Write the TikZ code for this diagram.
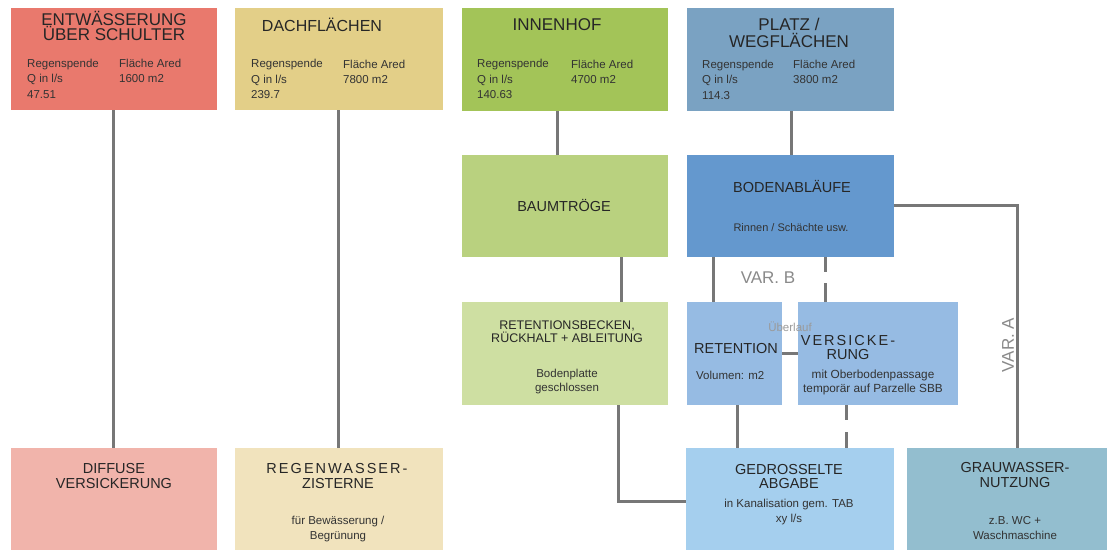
\documentclass[tikz,border=0pt]{standalone}
\usepackage{fontspec}
\setmainfont{Liberation Sans}
\usetikzlibrary{calc}
\definecolor{cRed}{HTML}{E9796D}
\definecolor{cYel}{HTML}{E3CF88}
\definecolor{cGrn}{HTML}{A3C458}
\definecolor{cSlt}{HTML}{7AA2C2}
\definecolor{cBaum}{HTML}{B9D17F}
\definecolor{cBod}{HTML}{6498CE}
\definecolor{cRb}{HTML}{CEDFA2}
\definecolor{cRet}{HTML}{96BBE3}
\definecolor{cDif}{HTML}{F1B4AB}
\definecolor{cReg}{HTML}{F1E3BD}
\definecolor{cGed}{HTML}{A5CFEE}
\definecolor{cGrau}{HTML}{93BECF}
\definecolor{lineg}{HTML}{777777}
\definecolor{txt}{HTML}{262626}
\definecolor{txts}{HTML}{333333}
\definecolor{vargray}{HTML}{8A8A8A}
\definecolor{ueb}{HTML}{9A9A9A}
\begin{document}
\begin{tikzpicture}[x=1pt,y=-1pt,
  box/.style={rectangle, inner sep=0pt, outer sep=0pt, draw=none, anchor=north west},
  conn/.style={line width=3pt, draw=lineg},
  ttl/.style={inner sep=0pt, align=center, text=txt, font=\fontsize{17}{15}\selectfont},
  hd/.style={inner sep=0pt, align=center, text=txt, font=\fontsize{14.5}{15}\selectfont},
  sm/.style={inner sep=0pt, text=txts, font=\fontsize{11.5}{15.5}\selectfont},
  lsp/.style={inner sep=0pt, align=center, text=txt, font=\fontsize{14.5}{15}\selectfont\addfontfeature{LetterSpace=14}}
]
\useasboundingbox (0,0) rectangle (1107,550);
\fill[white] (0,0) rectangle (1107,550);

% boxes
\node[box, fill=cRed, minimum width=206pt, minimum height=102pt] (b1) at (11,8) {};
\node[box, fill=cYel, minimum width=208pt, minimum height=102pt] (b2) at (235,8) {};
\node[box, fill=cGrn, minimum width=206pt, minimum height=103pt] (b3) at (462,8) {};
\node[box, fill=cSlt, minimum width=207pt, minimum height=103pt] (b4) at (687,8) {};
\node[box, fill=cBaum, minimum width=206pt, minimum height=102pt] (bt) at (462,155) {};
\node[box, fill=cBod, minimum width=207pt, minimum height=102pt] (bo) at (687,155) {};
\node[box, fill=cRb, minimum width=206pt, minimum height=103pt] (rb) at (462,302) {};
\node[box, fill=cRet, minimum width=95pt, minimum height=103pt] (re) at (687,302) {};
\node[box, fill=cRet, minimum width=160pt, minimum height=103pt] (ve) at (798,302) {};
\node[box, fill=cDif, minimum width=206pt, minimum height=102pt] (di) at (11,448) {};
\node[box, fill=cReg, minimum width=208pt, minimum height=102pt] (rw) at (235,448) {};
\node[box, fill=cGed, minimum width=208pt, minimum height=102pt] (ge) at (686,448) {};
\node[box, fill=cGrau, minimum width=208pt, minimum height=102pt] (gr) at (907,448) {};

% helper coordinates
\coordinate (x1) at (113,0);
\coordinate (x2) at (338,0);
\coordinate (x3) at (557,0);
\coordinate (x4) at (791,0);
\coordinate (xb) at (621,0);
\coordinate (xv1) at (713,0);
\coordinate (xv2) at (825,0);
\coordinate (xr) at (737,0);
\coordinate (xs) at (846,0);
\coordinate (yo) at (0,353);
\coordinate (cA) at (1017,205);
\coordinate (cR) at (618,501);

% connectors
\draw[conn] (b1.south -| x1) -- (di.north -| x1);
\draw[conn] (b2.south -| x2) -- (rw.north -| x2);
\draw[conn] (b3.south -| x3) -- (bt.north -| x3);
\draw[conn] (b4.south -| x4) -- (bo.north -| x4);
\draw[conn] (bt.south -| xb) -- (rb.north -| xb);
\draw[conn] (bo.south -| xv1) -- (re.north -| xv1);
\draw[conn, dash pattern=on 15pt off 11pt on 40pt] (bo.south -| xv2) -- (ve.north -| xv2);
\draw[conn] (re.east |- yo) -- (ve.west |- yo);
\draw[conn] (re.south -| xr) -- (ge.north -| xr);
\draw[conn, dash pattern=on 15pt off 12pt on 40pt] (ve.south -| xs) -- (ge.north -| xs);
\draw[conn] (bo.east |- cA) -- (cA) -- (gr.north -| cA);
\draw[conn] (rb.south -| cR) -- (cR) -- (ge.west |- cR);

% top row texts
\node[ttl] (t1) at (114,25.5) {ENTWÄSSERUNG\\ÜBER SCHULTER};
\node[sm, align=left, anchor=west] (t1l) at (27,78.5) {Regenspende\\Q in l/s\\47.51};
\node[sm, align=left, anchor=west] (t1r) at (119,71) {Fläche Ared\\1600 m2};

\node[ttl, font=\fontsize{16}{15}\selectfont] (t2) at (322,25) {DACHFLÄCHEN};
\node[sm, align=left, anchor=west] (t2l) at (251,79) {Regenspende\\Q in l/s\\239.7};
\node[sm, align=left, anchor=west] (t2r) at (343,72) {Fläche Ared\\7800 m2};

\node[ttl] (t3) at (557,25) {INNENHOF};
\node[sm, align=left, anchor=west] (t3l) at (477,79) {Regenspende\\Q in l/s\\140.63};
\node[sm, align=left, anchor=west] (t3r) at (571,72) {Fläche Ared\\4700 m2};

\node[ttl, font=\fontsize{17}{17}\selectfont] (t4) at (789,32.5) {PLATZ /\\WEGFLÄCHEN};
\node[sm, align=left, anchor=west] (t4l) at (702,79.5) {Regenspende\\Q in l/s\\114.3};
\node[sm, align=left, anchor=west] (t4r) at (793,72) {Fläche Ared\\3800 m2};

% second row
\node[hd] (tbt) at (564,205) {BAUMTRÖGE};
\node[hd] (tbo) at (792,186) {BODENABLÄUFE};
\node[sm, font=\fontsize{11}{14}\selectfont] (tbo2) at (791,228) {Rinnen / Schächte usw.};

% variant labels
\node[inner sep=0pt, text=vargray, font=\fontsize{17}{17}\selectfont] (vb) at (768,278) {VAR. B};
\node[inner sep=0pt, text=vargray, font=\fontsize{17}{17}\selectfont, rotate=90] (va) at (1008,345) {VAR. A};
\node[inner sep=0pt, text=ueb, font=\fontsize{11.5}{14}\selectfont] (ue) at (790,327) {Überlauf};

% third row
\node[hd, font=\fontsize{12.5}{13}\selectfont] (trb) at (567,331.5) {RETENTIONSBECKEN,\\RÜCKHALT + ABLEITUNG};
\node[sm, align=center, font=\fontsize{11.5}{14}\selectfont] (trb2) at (567,382) {Bodenplatte\\geschlossen};
\node[hd] (tre) at (736,348) {RETENTION};
\node[sm, anchor=west] (tre2) at (696,375) {Volumen: m2};
\node[lsp] (tve) at (848,340) {VERSICKE-};
\node[hd] (tve1) at (848,354) {RUNG};
\node[sm, align=center, font=\fontsize{11.8}{14}\selectfont] (tve2) at (873,382) {mit Oberbodenpassage\\temporär auf Parzelle SBB};

% bottom row
\node[hd] (tdi) at (114,475.5) {DIFFUSE\\VERSICKERUNG};
\node[lsp] (trw) at (337,468) {REGENWASSER-};
\node[hd] (trw1) at (338,483) {ZISTERNE};
\node[sm, align=center, font=\fontsize{11.5}{15}\selectfont] (trw2) at (338,529.5) {für Bewässerung /\\Begrünung};
\node[hd, font=\fontsize{14.5}{14}\selectfont] (tge) at (789,476) {GEDROSSELTE\\ABGABE};
\node[sm, align=center, font=\fontsize{11.5}{15}\selectfont] (tge2) at (789,512.5) {in Kanalisation gem. TAB\\xy l/s};
\node[hd] (tgr) at (1015,474.5) {GRAUWASSER-\\NUTZUNG};
\node[sm, align=center, font=\fontsize{11.5}{15}\selectfont] (tgr2) at (1015,528.5) {z.B. WC +\\Waschmaschine};
\end{tikzpicture}
\end{document}
